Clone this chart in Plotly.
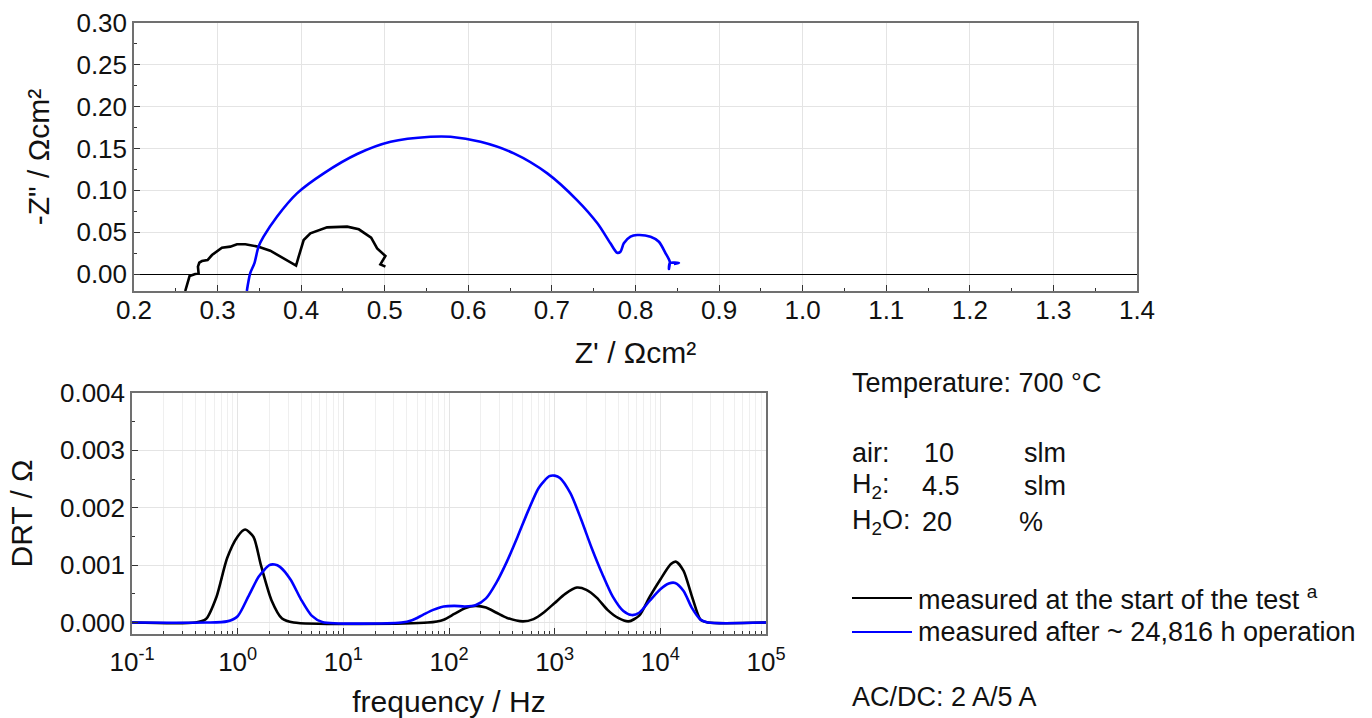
import plotly.graph_objects as go

W, H = 1372, 718

# ---------------- Nyquist data (Z' , -Z'') in Ohm cm^2 ----------------
nyq_start_zre = [0.2613, 0.2665, 0.2733, 0.2773, 0.2765, 0.2781, 0.2813, 0.2880, 0.2933,
                 0.3052, 0.3152, 0.3232, 0.3332, 0.3490, 0.3630, 0.3770, 0.3939, 0.3970,
                 0.4030, 0.4110, 0.4310, 0.4550, 0.4690, 0.4837, 0.4909, 0.5008, 0.4976,
                 0.4948, 0.5008]
nyq_start_zim = [-0.0203, -0.0024, 0.0000, 0.0008, 0.0088, 0.0135, 0.0155, 0.0167, 0.0227,
                 0.0315, 0.0327, 0.0355, 0.0355, 0.0327, 0.0279, 0.0199, 0.0100, 0.0207,
                 0.0406, 0.0486, 0.0558, 0.0566, 0.0534, 0.0434, 0.0307, 0.0215, 0.0155,
                 0.0116, 0.0088]

nyq_after_zre = [0.335, 0.339, 0.344, 0.349, 0.355, 0.371, 0.395, 0.427, 0.467, 0.507,
                 0.5547, 0.5787, 0.6146, 0.6545, 0.6945, 0.730, 0.7544, 0.770, 0.778,
                 0.782, 0.786, 0.794, 0.802, 0.818, 0.828, 0.836, 0.841, 0.840, 0.841,
                 0.852, 0.846]
nyq_after_zim = [-0.0203, 0.0008, 0.0127, 0.0327, 0.0446, 0.0685, 0.0964, 0.1203, 0.1434,
                 0.1580, 0.1640, 0.1640, 0.1580, 0.1442, 0.1203, 0.0884, 0.0606, 0.0367,
                 0.0255, 0.0267, 0.0367, 0.0446, 0.0466, 0.0446, 0.0386, 0.0247, 0.0147,
                 0.0060, 0.0130, 0.0130, 0.0120]

# ---------------- DRT data (frequency in Hz, DRT in Ohm) ----------------
drt_start_f = [0.1, 0.398, 0.501, 0.631, 0.794, 1.0, 1.175, 1.413, 1.660, 2.089, 2.630,
               3.388, 63.1, 89.1, 112.2, 141.3, 177.8, 223.9, 281.8, 354.8, 501.2, 631.0,
               794.3, 1000, 1259, 1622, 1995, 2512, 3162, 3981, 5012, 6310, 7943, 10000,
               12589, 14125, 16596, 19953, 23988, 28184, 100000]
drt_start_v = [0, 0, 0.00006, 0.00045, 0.00112, 0.00150, 0.00162, 0.00149, 0.00100,
               0.00039, 0.00007, 0, 0, 0.00005, 0.00015, 0.00025, 0.00029, 0.00026,
               0.00017, 0.00008, 0.00002, 0.00006, 0.00018, 0.00034, 0.00050, 0.00061,
               0.00057, 0.00043, 0.00022, 0.00008, 0.00002, 0.00012, 0.00045, 0.00075,
               0.00102, 0.00106, 0.00090, 0.00045, 0.00005, 0, 0]

drt_after_f = [0.1, 0.501, 0.794, 1.0, 1.259, 1.585, 1.995, 2.239, 2.512, 3.162, 3.981,
               5.012, 6.310, 35.48, 44.67, 56.23, 70.79, 89.13, 112.2, 141.3, 177.8,
               223.9, 281.8, 354.8, 446.7, 562.3, 707.9, 891.3, 1000, 1122, 1413, 1778,
               2239, 2818, 3548, 4467, 5370, 6310, 7943, 10000, 12023, 13804, 16596,
               19953, 23988, 28184, 100000]
drt_after_v = [0, 0, 0.00002, 0.00011, 0.00045, 0.00080, 0.00100, 0.00101, 0.00097,
               0.00075, 0.00040, 0.00012, 0.00001, 0, 0.00004, 0.00013, 0.00022, 0.00028,
               0.00029, 0.00028, 0.00030, 0.00042, 0.00070, 0.00107, 0.00150, 0.00195,
               0.00235, 0.00255, 0.00256, 0.00252, 0.00225, 0.00180, 0.00130, 0.00085,
               0.00045, 0.00020, 0.00013, 0.00017, 0.00038, 0.00058, 0.00068, 0.00069,
               0.00055, 0.00025, 0.00005, 0, 0]

series_names = ["measured at the start of the test", "measured after ~ 24,816 h operation"]
series_colors = ["#000000", "#0000ff"]

x_ticks_log = [0.1, 1, 10, 100, 1000, 10000, 100000]
x_ticktext_log = ["10<sup>-1</sup>", "10<sup>0</sup>", "10<sup>1</sup>", "10<sup>2</sup>",
                  "10<sup>3</sup>", "10<sup>4</sup>", "10<sup>5</sup>"]
minor_log = [m * d for d in [0.1, 1, 10, 100, 1000, 10000] for m in range(2, 10)]

FONT = "Arial, Liberation Sans, Arimo, sans-serif"
GRID = "#e4e4e4"
FRAME = "#707070"
LW = 2.6

def px(x):
    return x / W

def py(y):
    return 1 - y / H

fig = go.Figure()

fig.add_trace(go.Scatter(x=nyq_start_zre, y=nyq_start_zim, mode="lines", name=series_names[0],
                         line=dict(color=series_colors[0], width=LW), showlegend=False,
                         xaxis="x", yaxis="y"))
fig.add_trace(go.Scatter(x=nyq_after_zre, y=nyq_after_zim, mode="lines", name=series_names[1],
                         line=dict(color=series_colors[1], width=LW, shape="spline", smoothing=0.8),
                         showlegend=False, xaxis="x", yaxis="y"))

fig.add_trace(go.Scatter(x=drt_start_f, y=drt_start_v, mode="lines", name=series_names[0],
                         line=dict(color=series_colors[0], width=LW, shape="spline", smoothing=0.7),
                         showlegend=False, xaxis="x2", yaxis="y2"))
fig.add_trace(go.Scatter(x=drt_after_f, y=drt_after_v, mode="lines", name=series_names[1],
                         line=dict(color=series_colors[1], width=LW, shape="spline", smoothing=0.7),
                         showlegend=False, xaxis="x2", yaxis="y2"))

common = dict(ticks="inside", ticklen=6, tickwidth=1, tickcolor="#333333",
              showline=True, linecolor=FRAME, linewidth=1.5, mirror=True,
              showgrid=True, gridcolor=GRID, gridwidth=1,
              tickfont=dict(family=FONT, size=26, color="#111111"),
              automargin=False)

fig.update_layout(
    width=W, height=H,
    margin=dict(l=0, r=0, t=0, b=0),
    paper_bgcolor="white", plot_bgcolor="white",
    font=dict(family=FONT, color="#111111"),
    xaxis=dict(domain=[px(134), px(1137)], anchor="y", range=[0.2, 1.4],
               tick0=0.2, dtick=0.1, tickformat=".1f", zeroline=False, ticklabelstandoff=-5,
               minor=dict(ticks="inside", ticklen=3, dtick=0.05, tickcolor="#333333", showgrid=False),
               title=dict(text="Z' / Ωcm²", font=dict(family=FONT, size=30), standoff=18),
               **common),
    yaxis=dict(domain=[py(291), py(23)], anchor="x", range=[-0.0203, 0.30],
               tick0=0, dtick=0.05, tickformat=".2f",
               zeroline=True, zerolinecolor="#000000", zerolinewidth=1.2,
               minor=dict(ticks="inside", ticklen=3, dtick=0.025, tickcolor="#333333", showgrid=False),
               title=dict(text='-Z" / Ωcm²', font=dict(family=FONT, size=30), standoff=18),
               **common),
    xaxis2=dict(domain=[px(132), px(766)], anchor="y2", type="log", range=[-1, 5],
                tickvals=x_ticks_log, ticktext=x_ticktext_log, zeroline=False, ticklabelstandoff=4,
                minor=dict(ticks="inside", ticklen=3, tickvals=minor_log, tickcolor="#333333",
                           showgrid=True, gridcolor="#efefef", gridwidth=1),
                title=dict(text="frequency / Hz", font=dict(family=FONT, size=30), standoff=16),
                **common),
    yaxis2=dict(domain=[py(634), py(393)], anchor="x2", range=[-0.0002, 0.004],
                tick0=0, dtick=0.001, tickformat=".3f", zeroline=False,
                minor=dict(ticks="inside", ticklen=3, dtick=0.0005, tickcolor="#333333", showgrid=False),
                title=dict(text="DRT / Ω", font=dict(family=FONT, size=30), standoff=18),
                **common),
)

# ---------------- side text block ----------------
TS = 27
def note(x, y, text):
    fig.add_annotation(x=px(x), y=py(y), xref="paper", yref="paper", text=text,
                       showarrow=False, xanchor="left", yanchor="middle",
                       font=dict(family=FONT, size=TS, color="#111111"))

note(850, 383, "Temperature: 700 °C")
note(850, 453, "air:")
note(922, 453, "10")
note(1022, 453, "slm")
note(850, 486, "H<sub>2</sub>:")
note(920, 486, "4.5")
note(1022, 486, "slm")
note(850, 522, "H<sub>2</sub>O:")
note(920, 522, "20")
note(1017, 522, "%")
note(916, 598, series_names[0] + " <sup>a</sup>")
note(916, 632, series_names[1])
note(850, 697, "AC/DC: 2 A/5 A")

for yy, col in [(598, series_colors[0]), (632, series_colors[1])]:
    fig.add_shape(type="line", xref="paper", yref="paper", x0=px(852), x1=px(912),
                  y0=py(yy), y1=py(yy), line=dict(color=col, width=2.2))

fig.write_html("out.html", config={"displayModeBar": False},
               post_script="document.body.style.margin='0';document.body.style.overflow='hidden';")
